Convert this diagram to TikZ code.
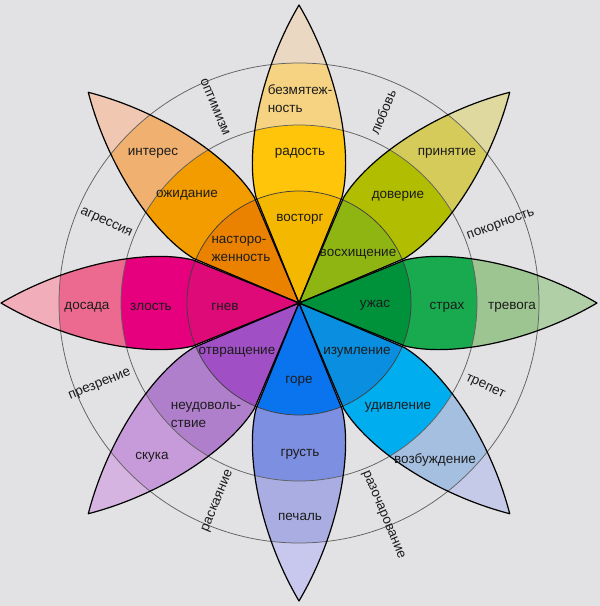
\documentclass[tikz,border=0pt]{standalone}
\usepackage{fontspec}
\setmainfont{Liberation Sans}
\definecolor{bg}{HTML}{E2E2E4}
% top (joy)
\definecolor{joyA}{HTML}{F5B800}\definecolor{joyB}{HTML}{FFC50A}\definecolor{joyC}{HTML}{F6D382}\definecolor{joyD}{HTML}{EAD8C3}
% top-right (trust)
\definecolor{trA}{HTML}{8FB513}\definecolor{trB}{HTML}{B0BD00}\definecolor{trC}{HTML}{D5CB5A}\definecolor{trD}{HTML}{DFD89F}
% right (fear)
\definecolor{feA}{HTML}{00923A}\definecolor{feB}{HTML}{19A94F}\definecolor{feC}{HTML}{9DC592}\definecolor{feD}{HTML}{B0CFA6}
% bottom-right (surprise)
\definecolor{suA}{HTML}{0A8FE0}\definecolor{suB}{HTML}{00AEEF}\definecolor{suC}{HTML}{A4BFE0}\definecolor{suD}{HTML}{C5CAE8}
% bottom (sadness)
\definecolor{saA}{HTML}{0A73EE}\definecolor{saB}{HTML}{7D8FE0}\definecolor{saC}{HTML}{A9ADE2}\definecolor{saD}{HTML}{C8C8EE}
% bottom-left (disgust)
\definecolor{diA}{HTML}{A04FC4}\definecolor{diB}{HTML}{B07FCB}\definecolor{diC}{HTML}{C79BD9}\definecolor{diD}{HTML}{D6B4E2}
% left (anger)
\definecolor{anA}{HTML}{DD0A78}\definecolor{anB}{HTML}{E6007E}\definecolor{anC}{HTML}{EC6A8F}\definecolor{anD}{HTML}{F1ADB9}
% top-left (anticipation)
\definecolor{apA}{HTML}{EA8200}\definecolor{apB}{HTML}{F29C00}\definecolor{apC}{HTML}{F0B070}\definecolor{apD}{HTML}{F0C8B2}
\definecolor{txt}{HTML}{1C1C1C}
\tikzset{
  petalshape/.style={insert path={(0,0) -- (43,106) .. controls (54,150) and (40,230) .. (0,298) .. controls (-40,230) and (-54,150) .. (-43,106) -- cycle}},
  petalline/.style={draw=black, line width=1.2pt, line join=round},
  ring/.style={draw=black!62, line width=0.75pt},
  lbl/.style={font=\fontsize{13.5}{18.5}\selectfont, text=txt, inner sep=0pt},
}
\newcommand\drawpetal[5]{%
  \begin{scope}[shift={(299,-303)}, rotate=#1-90]
    \path[fill=#5, petalshape];
    \begin{scope}
      \clip[petalshape];
      \fill[#4] (0,0) circle (240);
      \fill[#3] (0,0) circle (178);
      \fill[#2] (0,0) circle (112);
    \end{scope}
  \end{scope}}
\begin{document}
\begin{tikzpicture}[x=1pt,y=1pt]
\useasboundingbox (0,0) rectangle (600,-606);
\fill[bg] (0,0) rectangle (600,-606);
\drawpetal{90}{joyA}{joyB}{joyC}{joyD}
\drawpetal{45}{trA}{trB}{trC}{trD}
\drawpetal{0}{feA}{feB}{feC}{feD}
\drawpetal{-45}{suA}{suB}{suC}{suD}
\drawpetal{-90}{saA}{saB}{saC}{saD}
\drawpetal{-135}{diA}{diB}{diC}{diD}
\drawpetal{180}{anA}{anB}{anC}{anD}
\drawpetal{135}{apA}{apB}{apC}{apD}
\begin{scope}[shift={(299,-303)}]
  \draw[ring, draw=black!75] (0,0) circle (112);
  \draw[ring] (0,0) circle (178);
  \draw[ring] (0,0) circle (240);
\end{scope}
\foreach \a in {90,45,0,-45,-90,-135,180,135}{
  \begin{scope}[shift={(299,-303)}, rotate=\a-90]
    \draw[petalline, petalshape];
  \end{scope}}
% petal labels
\node[lbl, align=left] (bezm) at (300,-98.5) {безмятеж-\\ность};
\node[lbl] (rad) at (300,-153) {радость};
\node[lbl] (vost) at (300,-219) {восторг};
\node[lbl] (prin) at (447,-153) {принятие};
\node[lbl] (dov) at (398,-196) {доверие};
\node[lbl] (vosh) at (358,-254) {восхищение};
\node[lbl] (trev) at (512,-307) {тревога};
\node[lbl] (strah) at (447,-307) {страх};
\node[lbl] (uzh) at (375,-305) {ужас};
\node[lbl] (vozb) at (435,-460) {возбуждение};
\node[lbl] (udiv) at (398,-407) {удивление};
\node[lbl] (izum) at (357,-352) {изумление};
\node[lbl] (pech) at (300,-517) {печаль};
\node[lbl] (grust) at (300,-454) {грусть};
\node[lbl] (gore) at (299,-381) {горе};
\node[lbl] (skuka) at (152,-457) {скука};
\node[lbl, align=left] (neud) at (206,-415) {неудоволь-\\ствие};
\node[lbl] (otvr) at (237,-352) {отвращение};
\node[lbl] (dos) at (87,-307) {досада};
\node[lbl] (zlost) at (151,-307) {злость};
\node[lbl] (gnev) at (225,-307) {гнев};
\node[lbl] (inter) at (153,-153) {интерес};
\node[lbl] (ozh) at (187,-195) {ожидание};
\node[lbl, align=left] (nast) at (241,-249) {насторо-\\женность};
% labels between petals
\node[lbl, rotate=-67.5] (opt) at (215,-107) {оптимизм};
\node[lbl, rotate=67.5] (lub) at (383,-112) {любовь};
\node[lbl, rotate=20] (pok) at (501,-225) {покорность};
\node[lbl, rotate=-25] (trep) at (485,-387) {трепет};
\node[lbl, rotate=-67.5] (razo) at (383,-515) {разочарование};
\node[lbl, rotate=67.5] (rask) at (218,-501) {раскаяние};
\node[lbl, rotate=22.5] (prez) at (100,-385) {презрение};
\node[lbl, rotate=-25] (agr) at (106,-223) {агрессия};
\end{tikzpicture}
\end{document}
